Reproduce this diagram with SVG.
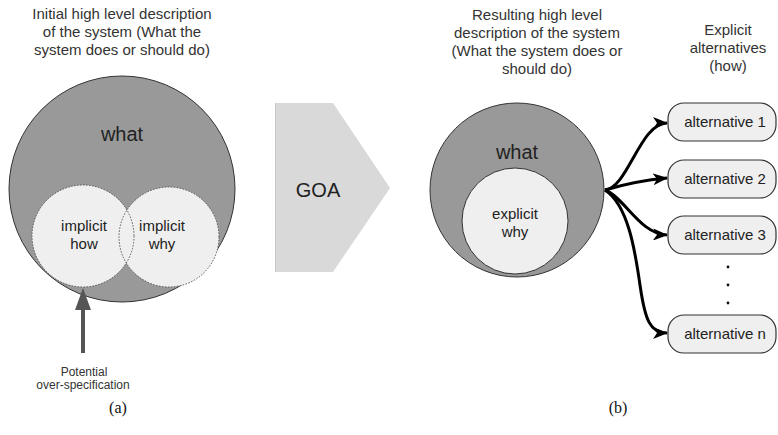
<svg xmlns="http://www.w3.org/2000/svg" width="778" height="435" viewBox="0 0 778 435">
<style>
  text { font-family: "Liberation Sans", Arial, sans-serif; fill: #222; text-anchor: middle; }
  .title { font-size: 15px; fill: #333; }
  .big { font-size: 20px; }
  .mid { font-size: 15px; }
  .small { font-size: 12px; fill: #333; }
  .cap { font-family: "Liberation Serif", "Times New Roman", serif; font-size: 16px; fill: #111; }
  .outer { fill: #999999; stroke: #333; stroke-width: 1; }
  .dotfill { fill: #efefef; stroke: none; }
  .dotline { fill: none; stroke: #555; stroke-width: 1; stroke-dasharray: 1.5 1.5; }
  .solid { fill: #efefef; stroke: #333; stroke-width: 1; }
  .alt { fill: #efefef; stroke: #333; stroke-width: 1.2; }
  .conn { fill: none; stroke: #000; stroke-width: 3; }
</style>
<defs>
  <marker id="stealth" markerUnits="userSpaceOnUse" markerWidth="16" markerHeight="12" viewBox="0 0 16 12" refX="14" refY="6" orient="auto">
    <path d="M0,0 L15,6 L0,12 L4,6 z" fill="#000"/>
  </marker>
</defs>

<g id="title-a">
  <text class="title" x="122" y="19">Initial high level description</text>
  <text class="title" x="122" y="37">of the system (What the</text>
  <text class="title" x="122" y="55">system does or should do)</text>
</g>

<g id="what-a">
  <circle class="outer" cx="122" cy="189" r="113"/>
  <text class="big" x="122" y="141">what</text>
</g>
<g id="implicit-how">
  <circle class="dotfill" cx="83" cy="236" r="51"/>
</g>
<g id="implicit-why">
  <circle class="dotfill" cx="169" cy="237" r="50"/>
  <circle class="dotline" cx="169" cy="237" r="50"/>
  <text class="mid" x="162" y="231">implicit</text>
  <text class="mid" x="162" y="249">why</text>
</g>
<g id="implicit-how-outline">
  <circle class="dotline" cx="83" cy="236" r="51"/>
  <text class="mid" x="84" y="231">implicit</text>
  <text class="mid" x="84" y="249">how</text>
</g>

<g id="overspec">
  <line x1="83" y1="353" x2="83" y2="308" stroke="#555" stroke-width="4"/>
  <polygon points="83,288 91,310 75,310" fill="#555"/>
  <text class="small" x="84" y="376">Potential</text>
  <text class="small" x="83" y="389">over-specification</text>
</g>

<g id="goa">
  <polygon points="275,103 333,103 390,188 333,272 275,272" fill="#d9d9d9"/>
  <line x1="275.5" y1="103" x2="275.5" y2="272" stroke="#c8c8c8" stroke-width="1"/>
  <text class="big" x="318" y="197">GOA</text>
</g>

<g id="title-b">
  <text class="title" x="537" y="20">Resulting high level</text>
  <text class="title" x="537" y="38">description of the system</text>
  <text class="title" x="537" y="56">(What the system does or</text>
  <text class="title" x="537" y="74">should do)</text>
</g>

<g id="title-alt">
  <text class="title" x="728" y="35">Explicit</text>
  <text class="title" x="728" y="53">alternatives</text>
  <text class="title" x="728" y="71">(how)</text>
</g>

<g id="what-b">
  <circle class="outer" cx="517" cy="190" r="87"/>
  <text class="big" x="517" y="159">what</text>
</g>
<g id="explicit-why">
  <circle class="solid" cx="515" cy="221" r="53"/>
  <text class="mid" x="515" y="219">explicit</text>
  <text class="mid" x="515" y="237">why</text>
</g>

<g id="connectors">
  <path class="conn" d="M605,190 C628,188 640,123 667,123" marker-end="url(#stealth)"/>
  <path class="conn" d="M605,190 C625,184 645,180 667,178" marker-end="url(#stealth)"/>
  <path class="conn" d="M605,190 C625,198 640,234 667,235" marker-end="url(#stealth)"/>
  <path class="conn" d="M605,190 C628,205 635,250 640,285 S650,333 667,333" marker-end="url(#stealth)"/>
</g>

<g id="alt-1">
  <rect class="alt" x="668" y="103" width="108" height="38" rx="16"/>
  <text class="mid" x="725" y="127">alternative 1</text>
</g>
<g id="alt-2">
  <rect class="alt" x="668" y="160" width="108" height="38" rx="16"/>
  <text class="mid" x="725" y="184">alternative 2</text>
</g>
<g id="alt-3">
  <rect class="alt" x="668" y="216" width="108" height="38" rx="16"/>
  <text class="mid" x="725" y="240">alternative 3</text>
</g>
<g id="dots">
  <circle cx="728" cy="267" r="1.4" fill="#111"/>
  <circle cx="728" cy="285" r="1.4" fill="#111"/>
  <circle cx="728" cy="303" r="1.4" fill="#111"/>
</g>
<g id="alt-n">
  <rect class="alt" x="668" y="315" width="108" height="38" rx="16"/>
  <text class="mid" x="725" y="339">alternative n</text>
</g>

<g id="captions">
  <text class="cap" x="118" y="413">(a)</text>
  <text class="cap" x="618" y="413">(b)</text>
</g>
</svg>
